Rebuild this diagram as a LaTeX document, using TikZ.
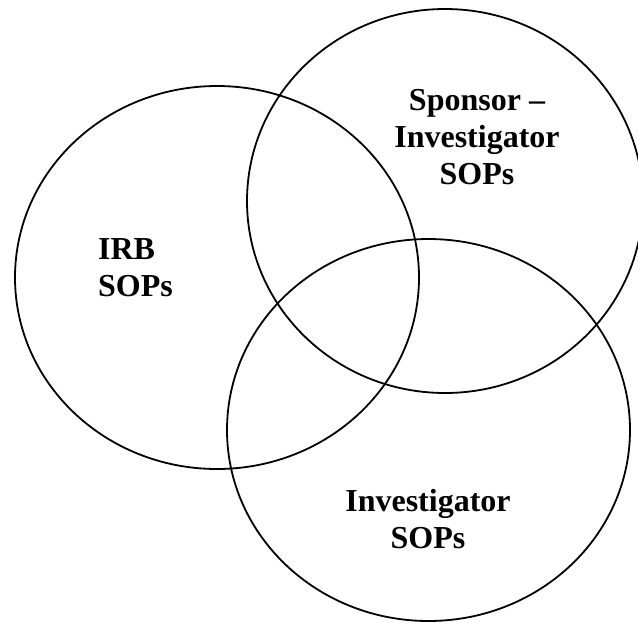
\documentclass[tikz,border=0pt]{standalone}
\usepackage{fontspec}
\setmainfont{Liberation Serif}
\usepackage{tikz}
\usetikzlibrary{positioning}

\begin{document}
\begin{tikzpicture}[
	x = 0.5pt, y = -0.5pt,
	ring/.style = {draw = black, line width = 0.9pt},
	every node/.style = {draw = none, font = \fontsize{16}{18.5}\selectfont\bfseries}
	]
	
	\useasboundingbox (0, 0) rectangle (638, 622);
	
	% the three circles
	\draw[ring] (217, 277.5) ellipse [x radius = 202, y radius = 191.5];
	\draw[ring] (445, 201) ellipse [x radius = 198, y radius = 192];
	\draw[ring] (428.5, 430) ellipse [x radius = 201.5, y radius = 191];
	
	\node[align = left, anchor = west] (irb) at (91, 268) {IRB\\SOPs};
	\node[align = center] (sponsor) at (477, 137) {Sponsor --\\Investigator\\SOPs};
	\node[align = center] (inv) at (428, 519) {Investigator\\SOPs};

\end{tikzpicture}
\end{document}
